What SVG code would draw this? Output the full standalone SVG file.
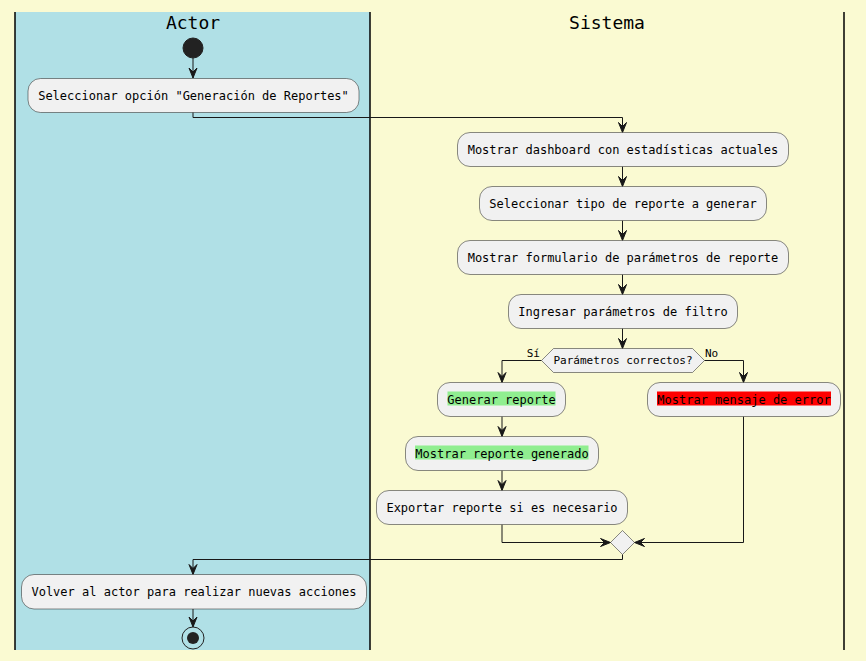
<svg xmlns="http://www.w3.org/2000/svg" width="866" height="661" viewBox="0 0 866 661">
<defs>
<style>
.act{fill:#F1F1F1;stroke:#181818;stroke-width:0.5}
.t{font-family:"DejaVu Sans Mono","Liberation Mono",monospace;font-size:12px;fill:#000}
.s{font-family:"DejaVu Sans Mono","Liberation Mono",monospace;font-size:11px;fill:#000}
.h{font-family:"DejaVu Sans Mono","Liberation Mono",monospace;font-size:18px;fill:#000}
.ln{fill:none;stroke:#181818;stroke-width:1}
.lane{stroke:#000;stroke-width:1.5}
</style>
<marker id="ar" markerWidth="12" markerHeight="10" viewBox="-11 -5 12 10" refX="0" refY="0" orient="auto" markerUnits="userSpaceOnUse">
<polygon points="-10,-4 0,0 -10,4 -6,0" fill="#181818" stroke="#181818" stroke-width="1"/>
</marker>
</defs>
<rect x="0" y="0" width="866" height="661" fill="#FAFAD2"/>
<g id="lanes">
<rect x="15" y="12" width="355" height="638" fill="#B0E0E6"/>
<line class="lane" x1="15" y1="12" x2="15" y2="650"/>
<line class="lane" x1="370" y1="12" x2="370" y2="650"/>
<line class="lane" x1="844" y1="12" x2="844" y2="650"/>
<text class="h" x="193" y="29" text-anchor="middle">Actor</text>
<text class="h" x="607" y="29" text-anchor="middle">Sistema</text>
</g>
<g id="connectors">
<path class="ln" d="M193,58 V78" marker-end="url(#ar)"/>
<path class="ln" d="M193,112 V117.5 H622.5 V132.5" marker-end="url(#ar)"/>
<path class="ln" d="M622.5,166.5 V186.5" marker-end="url(#ar)"/>
<path class="ln" d="M622.5,220.5 V240.5" marker-end="url(#ar)"/>
<path class="ln" d="M622.5,274.5 V294.5" marker-end="url(#ar)"/>
<path class="ln" d="M622.5,328.5 V348.5" marker-end="url(#ar)"/>
<path class="ln" d="M541.5,360.5 H502 V382.5" marker-end="url(#ar)"/>
<path class="ln" d="M704.5,360.5 H743.5 V382.5" marker-end="url(#ar)"/>
<path class="ln" d="M502,416.5 V436.5" marker-end="url(#ar)"/>
<path class="ln" d="M502,470.5 V490.5" marker-end="url(#ar)"/>
<path class="ln" d="M502,524.5 V542.5 H610.5" marker-end="url(#ar)"/>
<path class="ln" d="M743.5,416.5 V542.5 H634.5" marker-end="url(#ar)"/>
<path class="ln" d="M622.5,554.5 V559.5 H193 V574.5" marker-end="url(#ar)"/>
<path class="ln" d="M193,609 V627" marker-end="url(#ar)"/>
</g>
<g id="start"><circle cx="193" cy="48" r="10" fill="#222222" stroke="#222222"/></g>
<g id="a1">
<rect class="act" x="28" y="78.5" width="331" height="34" rx="12.5"/>
<text class="t" x="193.5" y="100" text-anchor="middle">Seleccionar opción "Generación de Reportes"</text>
</g>
<g id="a2">
<rect class="act" x="457.5" y="132.5" width="331" height="34" rx="12.5"/>
<text class="t" x="623" y="154" text-anchor="middle">Mostrar dashboard con estadísticas actuales</text>
</g>
<g id="a3">
<rect class="act" x="479.5" y="186.5" width="287" height="34" rx="12.5"/>
<text class="t" x="623" y="208" text-anchor="middle">Seleccionar tipo de reporte a generar</text>
</g>
<g id="a4">
<rect class="act" x="457.5" y="240.5" width="331" height="34" rx="12.5"/>
<text class="t" x="623" y="262" text-anchor="middle">Mostrar formulario de parámetros de reporte</text>
</g>
<g id="a5">
<rect class="act" x="508.5" y="294.5" width="229" height="34" rx="12.5"/>
<text class="t" x="623" y="316" text-anchor="middle">Ingresar parámetros de filtro</text>
</g>
<g id="d1">
<polygon class="act" points="541.5,360.5 553.5,348.5 692.5,348.5 704.5,360.5 692.5,372.5 553.5,372.5"/>
<text class="s" x="623" y="364" text-anchor="middle">Parámetros correctos?</text>
<text class="s" x="540" y="357" text-anchor="end">Sí</text>
<text class="s" x="705" y="357">No</text>
</g>
<g id="a6">
<rect class="act" x="437.5" y="382.5" width="128" height="34" rx="12.5"/>
<rect x="447.5" y="391.5" width="108" height="14" fill="#90EE90"/>
<text class="t" x="501.5" y="404" text-anchor="middle">Generar reporte</text>
</g>
<g id="a7">
<rect class="act" x="647.5" y="382.5" width="193" height="34" rx="12.5"/>
<rect x="657" y="391.5" width="174" height="14" fill="#FF0000"/>
<text class="t" x="744" y="404" text-anchor="middle">Mostrar mensaje de error</text>
</g>
<g id="a8">
<rect class="act" x="405.5" y="436.5" width="193" height="34" rx="12.5"/>
<rect x="415" y="445.5" width="173.5" height="14" fill="#90EE90"/>
<text class="t" x="502" y="458" text-anchor="middle">Mostrar reporte generado</text>
</g>
<g id="a9">
<rect class="act" x="376.5" y="490.5" width="251" height="34" rx="12.5"/>
<text class="t" x="502" y="512" text-anchor="middle">Exportar reporte si es necesario</text>
</g>
<g id="merge">
<polygon class="act" points="622.5,530.5 634.5,542.5 622.5,554.5 610.5,542.5"/>
</g>
<g id="a10">
<rect class="act" x="21.5" y="574.5" width="345" height="34.5" rx="12.5"/>
<text class="t" x="194" y="596" text-anchor="middle">Volver al actor para realizar nuevas acciones</text>
</g>
<g id="end">
<circle cx="193" cy="638" r="11" fill="none" stroke="#222222" stroke-width="1"/>
<circle cx="193" cy="638" r="6" fill="#222222"/>
</g>
</svg>
